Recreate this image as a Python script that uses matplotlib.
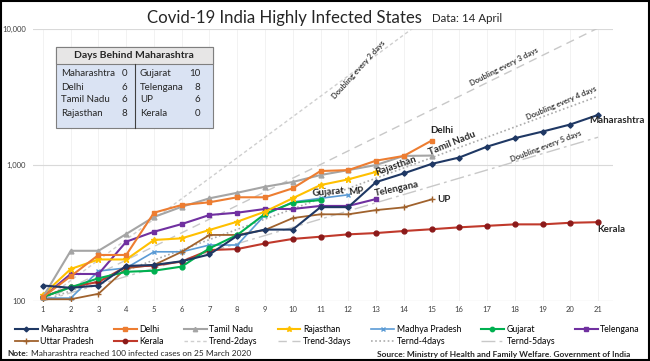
import numpy as np
import matplotlib.pyplot as plt
from matplotlib.patches import Rectangle

plt.rcParams['font.family'] = ['Lato', 'DejaVu Sans']

# data (cases, day 1 = first day with 100+ cases)
maharashtra = [130, 125, 130, 181, 184, 196, 220, 302, 335, 335, 490, 490, 748, 868,
               1018, 1135, 1364, 1574, 1761, 1985, 2334]
delhi = [107, 152, 218, 218, 446, 508, 532, 579, 579, 674, 903, 917, 1076, 1166, 1510]
tamil_nadu = [107, 234, 234, 311, 415, 493, 569, 625, 692, 750, 844, 917, 1000, 1166, 1173]
rajasthan = [111, 172, 202, 202, 281, 289, 333, 383, 454, 570, 712, 784, 890]
madhya_pradesh = [105, 105, 166, 175, 230, 230, 258, 258, 429, 535, 569, 604]
gujarat = [107, 126, 147, 164, 167, 179, 244, 306, 437, 529, 552]
telangana = [107, 158, 158, 273, 323, 368, 429, 446, 475, 475, 500, 500, 562]
uttar_pradesh = [103, 103, 113, 174, 184, 230, 306, 306, 333, 407, 434, 434, 466, 488, 558]
kerala = [107, 127, 138, 179, 182, 195, 237, 241, 265, 286, 297, 309, 316, 327, 337,
          348, 357, 366, 366, 376, 380]

days_behind_left = [("Maharashtra", 0), ("Delhi", 6), ("Tamil Nadu", 6), ("Rajasthan", 8)]
days_behind_right = [("Gujarat", 10), ("Telengana", 8), ("UP", 6), ("Kerala", 0)]

fig = plt.figure(figsize=(6.5, 3.61), dpi=100)
ax = fig.add_axes([33 / 650, 1 - 301 / 361, 580 / 650, 272 / 361])

def days(vals):
    return np.arange(1, len(vals) + 1)

# trend lines
t = np.arange(1, 22)
tr2, = ax.plot(t, 100 * 2 ** ((t - 1) / 2), color='#cfcfcf', lw=1.0, dashes=(2.5, 2))
tr3, = ax.plot(t, 100 * 2 ** ((t - 1) / 3), color='#c8c8c8', lw=1.0, dashes=(6, 4))
tr4, = ax.plot(t, 100 * 2 ** ((t - 1) / 4), color='#ababab', lw=1.2, dashes=(1, 1.5))
tr5, = ax.plot(t, 100 * 2 ** ((t - 1) / 5), color='#c8c8c8', lw=1.0, dashes=(10, 3, 2, 3))

ms = 3.5
h_mp, = ax.plot(days(madhya_pradesh), madhya_pradesh, color='#5b9bd5', lw=1.2, marker='x', ms=ms)
h_up, = ax.plot(days(uttar_pradesh), uttar_pradesh, color='#a0622d', lw=1.3, marker='+', ms=ms + 1)
h_ke, = ax.plot(days(kerala), kerala, color='#c0392b', lw=1.5, marker='o', ms=ms,
                mfc='#8b1a1a', mec='#8b1a1a')
h_gu, = ax.plot(days(gujarat), gujarat, color='#00b050', lw=1.5, marker='o', ms=ms)
h_te, = ax.plot(days(telangana), telangana, color='#7030a0', lw=1.5, marker='s', ms=ms)
h_ra, = ax.plot(days(rajasthan), rajasthan, color='#ffc000', lw=1.5, marker='*', ms=ms + 1)
h_tn, = ax.plot(days(tamil_nadu), tamil_nadu, color='#a5a5a5', lw=1.5, marker='^', ms=ms)
h_de, = ax.plot(days(delhi), delhi, color='#ed7d31', lw=1.5, marker='s', ms=ms)
h_ma, = ax.plot(days(maharashtra), maharashtra, color='#1f3864', lw=1.5, marker='D', ms=ms - 0.8)

ax.set_yscale('log')
ax.set_ylim(100, 10000)
ax.set_xlim(0.64, 21.54)
ax.set_xticks(t)
ax.set_yticks([100, 1000, 10000])
ax.set_yticklabels(['100', '1,000', '10,000'])
ax.minorticks_off()
ax.tick_params(length=0, labelsize=5.5, colors='#404040')
ax.tick_params(axis='y', pad=5)
for s in ax.spines.values():
    s.set_visible(False)
ax.axhline(100, color='#d9d9d9', lw=0.8, zorder=0)
ax.grid(axis='y', color='#d9d9d9', lw=0.8)
ax.grid(axis='x', color='#f0f0f0', lw=0.6)
ax.set_axisbelow(True)

# series labels
lab = dict(fontsize=7, fontweight='bold', color='#262626', va='center', clip_on=False)
ax.text(14.95, 1780, "Delhi", ha='left', **lab)
ax.text(15.74, 1450, "Tamil Nadu", ha='center', rotation=22, **lab)
ax.text(13.72, 984, "Rajasthan", ha='center', rotation=19, **lab)
ax.text(11.27, 633, "Gujarat", ha='center', rotation=5, **lab)
ax.text(12.28, 644, "MP", ha='center', rotation=8, **lab)
ax.text(13.76, 665, "Telengana", ha='center', rotation=12, **lab)
ax.text(15.2, 562, "UP", ha='left', **lab)
ax.text(20.7, 2140, "Maharashtra", ha='left', **lab)
ax.text(20.96, 338, "Kerala", ha='left', **lab)

dl = dict(fontsize=5.5, fontweight='bold', color='#404040', ha='center', va='center')
ax.text(12.39, 5000, "Doubling every 2 days", rotation=48, **dl)
ax.text(17.6, 5250, "Doubling every 3 days", rotation=27, **dl)
ax.text(19.7, 2860, "Doubling every 4 days", rotation=23, **dl)
ax.text(19.13, 1380, "Doubling every 5 days", rotation=21, **dl)

# title
fig.text(147 / 650, 1 - 18 / 361, "Covid-19 India Highly Infected States", fontsize=12.1,
         color='#262626', ha='left', va='center')
fig.text(432 / 650, 1 - 19 / 361, "Data: 14 April", fontsize=8.3, color='#262626',
         ha='left', va='center')

# days behind table
W, H = 650, 361
def fx(px):
    return px / W
def fy(py):
    return 1 - py / H

fig.patches.append(Rectangle((fx(56), fy(128)), fx(157), 81 / H, transform=fig.transFigure,
                             facecolor='#dae3f3', edgecolor='#7f7f7f', lw=0.8))
fig.patches.append(Rectangle((fx(56), fy(64)), fx(157), 17 / H, transform=fig.transFigure,
                             facecolor='#e7e6e6', edgecolor='#7f7f7f', lw=0.8))
fig.lines.append(plt.Line2D([fx(135), fx(135)], [fy(64), fy(128)], transform=fig.transFigure,
                            color='#404040', lw=0.8))
fig.text(fx(134), fy(55.5), "Days Behind Maharashtra", fontsize=7.5, fontweight='bold',
         color='#262626', ha='center', va='center')
rows_y = [74, 87, 100, 113]
for (name, d), y in zip(days_behind_left, rows_y):
    fig.text(fx(61), fy(y), name, fontsize=7, color='#262626', ha='left', va='center')
    fig.text(fx(127), fy(y), str(d), fontsize=7, color='#262626', ha='right', va='center')
for (name, d), y in zip(days_behind_right, rows_y):
    fig.text(fx(140), fy(y), name, fontsize=7, color='#262626', ha='left', va='center')
    fig.text(fx(200), fy(y), str(d), fontsize=7, color='#262626', ha='right', va='center')

# legend (column-wise order)
handles = [h_ma, h_up, h_de, h_ke, h_tn, tr2, h_ra, tr3, h_mp, tr4, h_gu, tr5, h_te]
labels = ["Maharashtra", "Uttar Pradesh", "Delhi", "Kerala", "Tamil Nadu", "Trend-2days",
          "Rajasthan", "Trend-3days", "Madhya Pradesh", "Ternd-4days", "Gujarat",
          "Ternd-5days", "Telengana"]
fig.legend(handles, labels, ncol=7, loc='lower left', mode='expand',
           bbox_to_anchor=(fx(15), fy(346), fx(625), 28 / H), frameon=False,
           fontsize=6.3, handlelength=2.6, handletextpad=0.3, labelspacing=0.3,
           borderaxespad=0, columnspacing=0.5, borderpad=0, markerscale=0.9)

# footer
fig.text(fx(7), fy(354), "Note:", fontsize=6, fontweight='bold', color='#262626',
         ha='left', va='center')
fig.text(fx(31), fy(354), "Maharashtra reached 100 infected cases on 25 March 2020",
         fontsize=6, color='#262626', ha='left', va='center')
fig.text(fx(630), fy(354), "Source: Ministry of Health and Family Welfare. Government of India",
         fontsize=6, fontweight='bold', color='#262626', ha='right', va='center')

fig.patches.append(Rectangle((0.002, 0.003), 0.996, 0.994, transform=fig.transFigure,
                             facecolor='none', edgecolor='black', lw=1.5))

fig.savefig('out.png', dpi=100)
